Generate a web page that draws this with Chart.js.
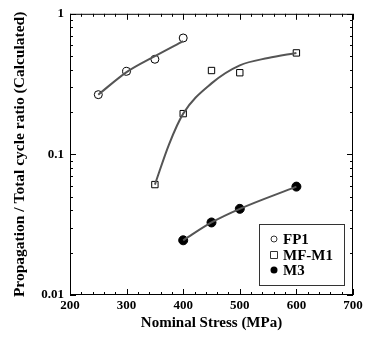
<!DOCTYPE html>
<html>
<head>
<meta charset="utf-8">
<script src="https://cdn.jsdelivr.net/npm/chart.js@4/dist/chart.umd.min.js"></script>
<style>
  html, body { margin: 0; padding: 0; background: #fff; }
  #wrap { width: 368px; height: 340px; }
</style>
</head>
<body>
<div id="wrap"><canvas id="c"></canvas></div>
<script>
// ── Data ──────────────────────────────────────────────────────
const fp1Stress  = [250, 300, 350, 400];
const fp1Ratio   = [0.266, 0.39, 0.475, 0.673];
const fp1FitX    = [250, 300, 350, 400];
const fp1FitY    = [0.266, 0.385, 0.50, 0.64];

const mfStress   = [350, 400, 450, 500, 600];
const mfRatio    = [0.061, 0.195, 0.395, 0.381, 0.527];
const mfFitX     = [350, 375, 400, 450, 500, 550, 600];
const mfFitY     = [0.061, 0.118, 0.195, 0.32, 0.43, 0.485, 0.527];

const m3Stress   = [400, 450, 500, 600];
const m3Ratio    = [0.0245, 0.0328, 0.041, 0.059];

const xTickLabels = [200, 300, 400, 500, 600, 700];
const yTickLabels = [0.01, 0.1, 1];

const seriesNames = ['FP1', 'MF-M1', 'M3'];

const SERIF = '"Liberation Serif", "DejaVu Serif", serif';
const LINE  = '#555';
const pts = (xs, ys) => xs.map((x, i) => ({ x, y: ys[i] }));

// ── Plugins ──────────────────────────────────────────────────
// frame + inward ticks on all four sides
const frameTicks = {
  id: 'frameTicks',
  afterDraw(chart) {
    const { ctx, chartArea: a, scales: { x, y } } = chart;
    ctx.save();
    ctx.strokeStyle = '#000';
    ctx.lineWidth = 1;
    ctx.strokeRect(a.left + 0.5, a.top + 0.5, a.right - a.left - 1, a.bottom - a.top - 1);
    ctx.beginPath();
    for (let v = x.min; v <= x.max; v += 20) {
      const px = Math.round(x.getPixelForValue(v)) + 0.5;
      const len = v % 100 === 0 ? 6 : 3;
      ctx.moveTo(px, a.bottom); ctx.lineTo(px, a.bottom - len);
      ctx.moveTo(px, a.top);    ctx.lineTo(px, a.top + len);
    }
    for (let d = 0.01; d < 1.5; d *= 10) {
      for (let m = 1; m <= 9; m++) {
        const v = d * m;
        if (v > y.max * 1.0001) break;
        const py = Math.round(y.getPixelForValue(v)) + 0.5;
        const len = m === 1 ? 6 : 3;
        ctx.moveTo(a.left, py);  ctx.lineTo(a.left + len, py);
        ctx.moveTo(a.right, py); ctx.lineTo(a.right - len, py);
      }
    }
    ctx.stroke();
    ctx.restore();
  }
};

// legend box inside the plot
const boxLegend = {
  id: 'boxLegend',
  afterDraw(chart) {
    const { ctx } = chart;
    const bx = 259, by = 224, bw = 85, bh = 61;
    ctx.save();
    ctx.strokeStyle = '#333';
    ctx.lineWidth = 1;
    ctx.strokeRect(bx + 0.5, by + 0.5, bw, bh);
    ctx.font = 'bold 15px ' + SERIF;
    ctx.textBaseline = 'middle';
    ctx.fillStyle = '#000';
    const rows = [239, 255, 270];
    seriesNames.forEach((name, i) => {
      const cy = rows[i], cx = 274;
      ctx.beginPath();
      ctx.lineWidth = 1;
      if (i === 1) {
        ctx.rect(cx - 3.5, cy - 3.5, 7, 7);
        ctx.stroke();
      } else {
        ctx.arc(cx, cy, i === 0 ? 3 : 3.5, 0, Math.PI * 2);
        if (i === 2) ctx.fill(); else ctx.stroke();
      }
      ctx.fillText(name, 283, cy + 1);
    });
    ctx.restore();
  }
};

// ── Chart ────────────────────────────────────────────────────
new Chart(document.getElementById('c'), {
  type: 'scatter',
  data: {
    datasets: [
      { label: 'FP1 fit', data: pts(fp1FitX, fp1FitY), showLine: true, cubicInterpolationMode: 'monotone',
        borderColor: LINE, borderWidth: 2, pointRadius: 0 },
      { label: 'MF-M1 fit', data: pts(mfFitX, mfFitY), showLine: true, cubicInterpolationMode: 'monotone',
        borderColor: LINE, borderWidth: 2, pointRadius: 0 },
      { label: 'M3', data: pts(m3Stress, m3Ratio), showLine: true, cubicInterpolationMode: 'monotone',
        borderColor: LINE, borderWidth: 2, pointRadius: 0 },
      { label: 'FP1', data: pts(fp1Stress, fp1Ratio), pointStyle: 'circle', pointRadius: 4,
        backgroundColor: '#fff', borderColor: '#000', borderWidth: 1 },
      { label: 'MF-M1', data: pts(mfStress, mfRatio), pointStyle: 'rect', pointRadius: 4.5,
        backgroundColor: '#fff', borderColor: '#000', borderWidth: 1 },
      { label: 'M3 pts', data: pts(m3Stress, m3Ratio), pointStyle: 'circle', pointRadius: 4.5,
        backgroundColor: '#000', borderColor: '#000', borderWidth: 1 },
    ],
  },
  options: {
    responsive: true,
    maintainAspectRatio: false,
    animation: false,
    layout: { padding: { left: 0, top: 12, right: 15, bottom: 0 } },
    plugins: { legend: { display: false }, tooltip: { enabled: false } },
    scales: {
      x: {
        type: 'linear', min: 200, max: 700,
        grid: { display: false, drawTicks: false },
        border: { display: false },
        afterFit: s => { s.height = 45; },
        ticks: {
          stepSize: 20, autoSkip: false, maxRotation: 0, padding: 3,
          color: '#000', font: { family: SERIF, size: 13, weight: 'bold' },
          callback: v => xTickLabels.includes(v) ? String(v) : '',
        },
        title: {
          display: true, text: 'Nominal Stress (MPa)', color: '#000',
          font: { family: SERIF, size: 15, weight: 'bold' },
          padding: { top: 0, bottom: 8 },
        },
      },
      y: {
        type: 'logarithmic', min: 0.01, max: 1,
        grid: { display: false, drawTicks: false },
        border: { display: false },
        afterFit: s => { s.width = 70; },
        afterBuildTicks: s => { s.ticks = yTickLabels.map(value => ({ value })); },
        ticks: {
          autoSkip: false, padding: 6,
          color: '#000', font: { family: SERIF, size: 13, weight: 'bold' },
          callback: v => String(v),
        },
        title: {
          display: true, text: 'Propagation / Total cycle ratio (Calculated)', color: '#000',
          font: { family: SERIF, size: 15.5, weight: 'bold' },
          padding: { top: 11, bottom: 0 },
        },
      },
    },
  },
  plugins: [frameTicks, boxLegend],
});
</script>
</body>
</html>
